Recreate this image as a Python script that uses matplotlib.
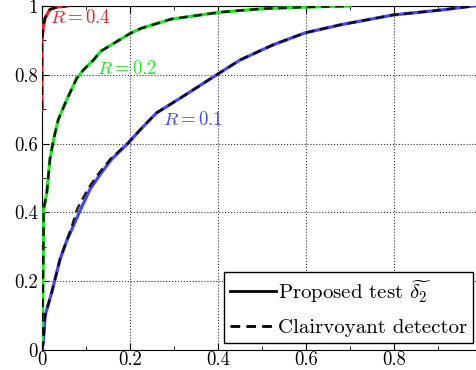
import matplotlib
matplotlib.use("Agg")
import matplotlib.pyplot as plt
from matplotlib.ticker import MultipleLocator, FuncFormatter

plt.rcParams["font.family"] = "serif"
plt.rcParams["font.serif"] = ["cmr10"]
plt.rcParams["mathtext.fontset"] = "cm"
plt.rcParams["axes.formatter.use_mathtext"] = True

# ===== DADOS =====
pfa_r01 = [0, 0.003, 0.007, 0.022, 0.041, 0.056, 0.071, 0.086, 0.109, 0.132,
           0.158, 0.196, 0.223, 0.26, 0.314, 0.397, 0.45, 0.525, 0.598, 0.677,
           0.798, 0.905, 0.98]
pd_r01 = [0, 0.023, 0.1, 0.167, 0.264, 0.317, 0.36, 0.404, 0.467, 0.51,
          0.554, 0.602, 0.64, 0.689, 0.732, 0.8, 0.843, 0.887, 0.922, 0.945,
          0.974, 0.988, 1.0]

pfa_r02 = [0, 0.002, 0.004, 0.011, 0.018, 0.026, 0.037, 0.056, 0.079, 0.094,
           0.117, 0.133, 0.2, 0.225, 0.294, 0.405, 0.5, 0.6, 0.7]
pd_r02 = [0, 0.17, 0.41, 0.458, 0.554, 0.61, 0.67, 0.727, 0.79, 0.814,
          0.843, 0.868, 0.92, 0.935, 0.962, 0.982, 0.992, 0.997, 1.0]

pfa_r04 = [0, 0, 0.003, 0.007, 0.018, 0.035, 0.057]
pd_r04 = [0.7, 0.9, 0.94, 0.965, 0.99, 0.997, 1.0]

# clarividente praticamente sobre as curvas do teste
pfa_cl01 = [0, 0.003, 0.007, 0.022, 0.041, 0.056, 0.068, 0.08, 0.105, 0.13,
            0.156, 0.196, 0.223, 0.26, 0.314, 0.397, 0.45, 0.525, 0.598, 0.677,
            0.798, 0.905, 0.98]
pd_cl01 = [0, 0.023, 0.1, 0.167, 0.264, 0.317, 0.36, 0.41, 0.47, 0.515,
           0.556, 0.602, 0.64, 0.689, 0.732, 0.8, 0.843, 0.887, 0.922, 0.945,
           0.974, 0.988, 1.0]
pfa_cl02 = pfa_r02
pd_cl02 = pd_r02
pfa_cl04 = pfa_r04
pd_cl04 = pd_r04

rotulos_x = ["0", "0.2", "0.4", "0.6", "0.8", ""]
cores = {"0.1": "#4646ff", "0.2": "#1ee81e", "0.4": "#e8242a"}
tracos = (3.5, 2.2)

# ===== GRÁFICO =====
fig = plt.figure(figsize=(4.76, 3.70), dpi=100)
ax = fig.add_axes([42 / 476, 20 / 370, 440 / 476, 344 / 370])

ax.plot(pfa_r01, pd_r01, color=cores["0.1"], lw=2.3, zorder=3)
ax.plot(pfa_r02, pd_r02, color=cores["0.2"], lw=2.3, zorder=3)
ax.plot(pfa_r04, pd_r04, color=cores["0.4"], lw=2.3, zorder=3)

for xs, ys in [(pfa_cl01, pd_cl01), (pfa_cl02, pd_cl02), (pfa_cl04, pd_cl04)]:
    ax.plot(xs, ys, color="k", ls="--", lw=1.8, dashes=tracos, alpha=0.85, zorder=4)

# entradas da legenda
ax.plot([], [], "k-", lw=2, label=r"Proposed test $\widetilde{\delta_2}$")
ax.plot([], [], "k--", lw=2, dashes=tracos, label="Clairvoyant detector")

ax.text(0.018, 0.965, r"$R=0.4$", color=cores["0.4"], fontsize=13.5, va="center")
ax.text(0.124, 0.818, r"$R=0.2$", color=cores["0.2"], fontsize=13.5, va="center")
ax.text(0.275, 0.67, r"$R=0.1$", color=cores["0.1"], fontsize=13.5, va="center")

ax.set_xlim(0, 1)
ax.set_ylim(0, 1)
ax.xaxis.set_major_locator(MultipleLocator(0.2))
ax.yaxis.set_major_locator(MultipleLocator(0.2))
ax.xaxis.set_minor_locator(MultipleLocator(0.1))
ax.yaxis.set_minor_locator(MultipleLocator(0.1))
ax.xaxis.set_major_formatter(FuncFormatter(
    lambda v, p: rotulos_x[int(round(v / 0.2))] if 0 <= round(v / 0.2) < len(rotulos_x) else ""))
ax.yaxis.set_major_formatter(FuncFormatter(lambda v, p: "%g" % round(v, 2)))
ax.tick_params(which="both", direction="in", top=True, right=True, labelsize=13.5)
ax.tick_params(which="major", length=5, pad=3)
ax.tick_params(axis="x", which="major", pad=0.5)
ax.tick_params(which="minor", length=3)
ax.grid(True, which="major", ls=":", color="k", lw=0.8, alpha=0.8)

leg = ax.legend(loc="lower right", bbox_to_anchor=(0.98, 0.02), borderaxespad=0,
                fontsize=15, fancybox=False, framealpha=1, edgecolor="k",
                handlelength=2.2, borderpad=0.3, handletextpad=0.1,
                labelspacing=0.65)
leg.get_frame().set_linewidth(1.0)

# ===== SALVAR =====
fig.savefig("out.png", dpi=100)
